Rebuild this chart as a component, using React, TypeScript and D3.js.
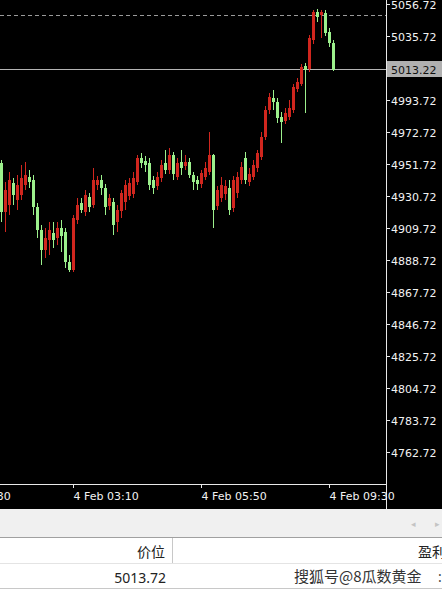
import React from "react";
import * as d3 from "d3";

// OHLC values (M5 candles)
const opens = [4952.38,4920.22,4924.81,4939.25,4928.10,4931.38,4937.94,4943.19,4941.22,4923.50,4908.41,4895.28,4901.85,4906.44,4903.16,4909.72,4907.10,4887.41,4882.16,4914.97,4926.13,4920.22,4930.06,4924.81,4937.94,4941.22,4935.97,4924.16,4926.78,4913.66,4920.88,4926.78,4930.72,4932.03,4939.91,4955.66,4953.69,4952.38,4941.22,4937.28,4942.53,4952.38,4947.78,4957.63,4943.19,4953.03,4950.41,4953.03,4944.50,4941.22,4938.60,4943.19,4946.47,4957.63,4924.16,4929.41,4932.03,4935.97,4922.85,4932.69,4941.22,4955.66,4939.91,4943.19,4949.10,4956.31,4969.44,4987.16,4995.03,4992.41,4982.56,4979.94,4982.56,4987.16,5000.94,5004.22,5016.03,5014.06,5033.10,5051.47,5049.50,5050.81,5038.35,5031.13];
const highs = [4954.35,4939.91,4946.47,4942.53,4944.50,4951.06,4953.03,4947.78,4944.50,4926.13,4911.69,4909.72,4913.66,4913.66,4913.66,4914.97,4909.72,4892.00,4918.25,4929.41,4929.41,4934.66,4932.69,4949.10,4943.85,4944.50,4938.60,4932.03,4929.41,4924.81,4934.66,4941.22,4942.53,4946.47,4957.63,4958.94,4956.97,4955.66,4943.85,4946.47,4954.35,4960.91,4962.22,4959.60,4955.66,4960.91,4957.63,4955.66,4946.47,4943.85,4947.78,4953.03,4972.72,4958.28,4937.28,4943.19,4941.22,4941.22,4943.85,4946.47,4953.03,4959.60,4949.10,4954.35,4960.91,4972.72,4989.78,4998.31,5000.28,4995.03,4985.85,4988.47,4993.72,5004.22,5008.16,5017.35,5018.00,5036.38,5052.78,5053.44,5052.78,5052.78,5040.97,5033.10];
const lows = [4913.66,4907.10,4918.25,4924.81,4921.53,4928.10,4934.66,4935.97,4918.25,4903.16,4885.44,4890.03,4892.00,4896.60,4898.56,4893.97,4883.47,4880.85,4880.85,4912.35,4919.56,4917.60,4920.22,4922.85,4934.66,4931.38,4918.25,4921.53,4905.13,4907.10,4916.28,4921.53,4928.10,4929.41,4937.94,4949.10,4946.47,4934.66,4932.03,4934.66,4939.91,4945.16,4945.16,4941.22,4941.22,4944.50,4947.78,4942.53,4934.66,4934.66,4935.97,4941.22,4944.50,4909.72,4921.53,4926.78,4928.10,4918.25,4920.22,4929.41,4938.60,4938.60,4937.28,4941.22,4946.47,4954.35,4967.47,4984.53,4987.16,4978.63,4965.50,4977.97,4980.60,4985.19,4998.97,5002.91,4985.19,5012.10,5030.47,5044.91,5034.41,5035.72,5028.50,5012.75];
const closes = [4920.22,4934.66,4941.22,4931.38,4937.94,4942.53,4944.50,4939.91,4923.50,4908.41,4895.28,4903.16,4908.41,4901.85,4909.72,4904.47,4887.41,4882.16,4916.28,4924.81,4921.53,4931.38,4923.50,4941.22,4941.22,4935.97,4923.50,4929.41,4911.69,4921.53,4932.69,4937.94,4939.25,4942.53,4955.66,4952.38,4951.06,4937.94,4935.97,4943.19,4951.06,4947.78,4957.63,4945.16,4952.38,4949.10,4953.03,4944.50,4939.91,4938.60,4945.81,4949.10,4957.63,4921.53,4934.66,4937.94,4937.28,4921.53,4941.22,4943.19,4949.75,4941.22,4945.16,4951.06,4958.94,4969.44,4987.16,4995.69,4992.41,4981.91,4979.28,4985.19,4988.47,5002.25,5005.53,5015.38,5013.41,5034.41,5051.47,5048.19,5051.47,5037.69,5031.13,5013.22];

const priceTicks = [5056.72,5035.72,4993.72,4972.72,4951.72,4930.72,4909.72,4888.72,4867.72,4846.72,4825.72,4804.72,4783.72,4762.72];
const timeTickIndex = [-14, 18, 50, 82];
const timeTickLabels = ["4 Feb 00:30", "4 Feb 03:10", "4 Feb 05:50", "4 Feb 09:30"];
const currentPrice = 5013.22;
const dashedLevel = 5049.5;
const tableHeader = ["价位", "盈利"];
const tableValue = "5013.72";
const watermark = "搜狐号@8瓜数黄金";

const W = 442, H = 590;
const AX = 386;      // price-axis x
const AY = 484;      // time-axis y
const BULL = "#d0261e";
const BEAR = "#9cf08c";
const AXIS_FONT = "'DejaVu Sans', sans-serif";

export default function App() {
  const y = d3.scaleLinear().domain([4741.72, 5056.72]).range([AY, 4]);
  const x = d3.scaleLinear().domain([0, 83]).range([1, 333]);
  const idx = d3.range(opens.length);

  return (
    <svg width={W} height={H} style={{ position: "fixed", left: 0, top: 0, display: "block" }}
      xmlns="http://www.w3.org/2000/svg">
      <rect x={0} y={0} width={W} height={509} fill="#000" />
      <defs>
        <clipPath id="plot"><rect x={0} y={0} width={AX} height={AY} /></clipPath>
      </defs>

      {/* dashed level and current price line */}
      <line x1={0} x2={AX} y1={Math.round(y(dashedLevel)) + 0.5} y2={Math.round(y(dashedLevel)) + 0.5}
        stroke="#9a9a9a" strokeDasharray="4,3" strokeWidth={1} />
      <line x1={0} x2={AX} y1={Math.round(y(currentPrice)) - 0.5} y2={Math.round(y(currentPrice)) - 0.5}
        stroke="#b4b4b4" strokeWidth={1} />

      {/* candles */}
      <g clipPath="url(#plot)">
        {idx.map((i) => {
          const cx = Math.round(x(i));
          const up = closes[i] >= opens[i];
          const col = up ? BULL : BEAR;
          const top = Math.round(y(Math.max(opens[i], closes[i])));
          const bot = Math.round(y(Math.min(opens[i], closes[i])));
          return (
            <g key={i}>
              <rect x={cx} y={Math.round(y(highs[i]))} width={1}
                height={Math.max(1, Math.round(y(lows[i])) - Math.round(y(highs[i])))} fill={col} />
              <rect x={cx - 1} y={top} width={3} height={Math.max(1, bot - top)} fill={col} />
            </g>
          );
        })}
      </g>

      {/* price axis */}
      <line x1={AX + 0.5} x2={AX + 0.5} y1={0} y2={509} stroke="#e8e8e8" strokeWidth={1} />
      {priceTicks.map((p) => {
        const ty = Math.round(y(p)) + 0.5;
        return (
          <g key={p}>
            <line x1={AX} x2={AX + 4} y1={ty} y2={ty} stroke="#e8e8e8" />
            <text x={AX + 5} y={ty + 4} fill="#f2f2f2" fontSize={11} fontFamily={AXIS_FONT}>{p.toFixed(2)}</text>
          </g>
        );
      })}
      <rect x={AX + 1} y={Math.round(y(currentPrice)) - 9} width={W - AX - 1} height={16} fill="#b0b0b0" />
      <text x={AX + 5} y={Math.round(y(currentPrice)) + 3.5} fill="#111" fontSize={11} fontFamily={AXIS_FONT}>
        {currentPrice.toFixed(2)}
      </text>

      {/* time axis */}
      <line x1={0} x2={AX} y1={AY + 0.5} y2={AY + 0.5} stroke="#e8e8e8" />
      {timeTickIndex.map((ti, k) => {
        const tx = Math.round(x(ti)) + 0.5;
        return (
          <g key={ti}>
            <line x1={tx} x2={tx} y1={AY} y2={AY + 4} stroke="#e8e8e8" />
            <text x={tx} y={AY + 16} fill="#f2f2f2" fontSize={11} fontFamily={AXIS_FONT}>{timeTickLabels[k]}</text>
          </g>
        );
      })}

      {/* bottom panel */}
      <rect x={0} y={509} width={W} height={29} fill="#f0f0f0" />
      <text x={411} y={527} fill="#c4c4c4" fontSize={9} fontFamily="'DejaVu Sans', sans-serif">◂</text>
      <text x={435} y={527} fill="#c4c4c4" fontSize={9} fontFamily="'DejaVu Sans', sans-serif">▸</text>
      <line x1={0} x2={W} y1={537.5} y2={537.5} stroke="#a0a0a0" />
      <rect x={0} y={538} width={W} height={52} fill="#fff" />
      <line x1={172.5} x2={172.5} y1={538} y2={563} stroke="#c8c8c8" />
      <text x={165} y={557} textAnchor="end" fill="#222" fontSize={14} fontFamily="'Noto Sans CJK SC', sans-serif">{tableHeader[0]}</text>
      <text x={418} y={557} fill="#222" fontSize={14} fontFamily="'Noto Sans CJK SC', sans-serif">{tableHeader[1]}</text>
      <line x1={0} x2={W} y1={563.5} y2={563.5} stroke="#e4e4e4" />
      <text x={166} y={583} textAnchor="end" fill="#222" fontSize={14} fontFamily="'Noto Sans', sans-serif">{tableValue}</text>
      <text x={294} y={582} fill="#333" stroke="#fff" strokeWidth={0.6} paintOrder="stroke" fontSize={15}
        fontFamily="'Noto Sans CJK SC', sans-serif">{watermark}</text>
      <text x={438} y={582} fill="#444" fontSize={14} fontFamily="'Noto Sans', sans-serif">:</text>
      <line x1={0} x2={W} y1={588.5} y2={588.5} stroke="#c8c8c8" />
    </svg>
  );
}
